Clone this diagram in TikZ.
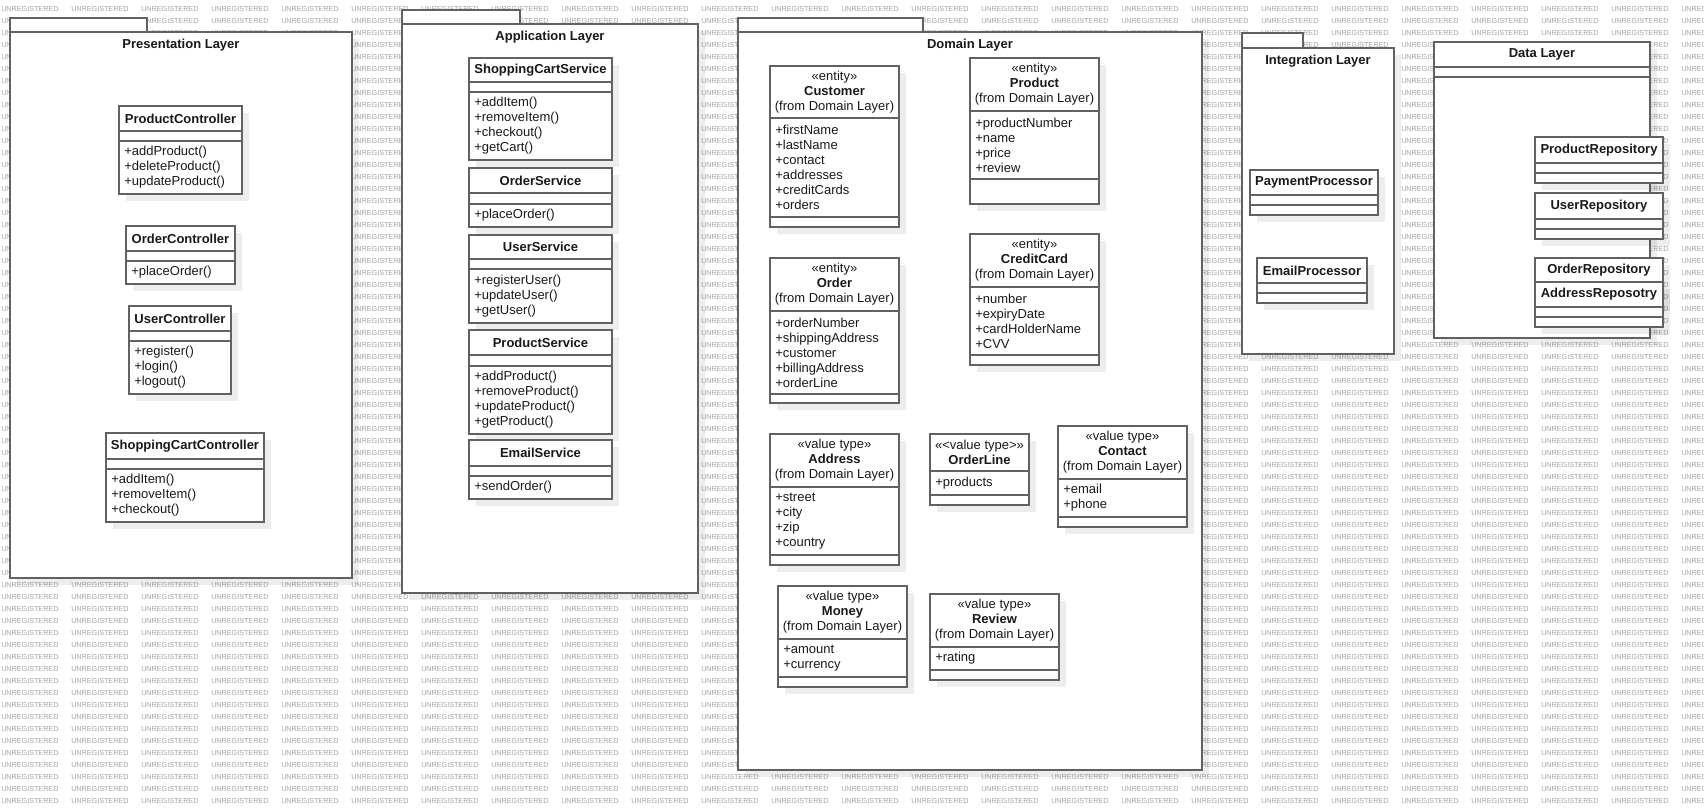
\documentclass[tikz,border=0pt]{standalone}
\usepackage{fontspec}
\setmainfont{Liberation Sans}
\usetikzlibrary{fit}

\newcommand{\umlfont}{\fontsize{9.75}{11.25}\selectfont}

% class: name, x1, y1, x2, y2, first rule, second rule, header
\newcommand{\classbox}[8]{%
  \fill[shadowfill] ({#2+7},{#3+7}) rectangle ({#4+7},{#5+7});
  \node[umlbox, fit={(#2,#3) (#4,#5)}] (#1) {};
  \draw[umlline] (#2,#6) -- (#4,#6) (#2,#7) -- (#4,#7);
  \node[classhead] (#1-name) at ({(#2+#4)/2},{(#3+#6)/2}) {#8};
  \coordinate (#1-a) at ({#2+5},{(#6+#7)/2});
  \coordinate (#1-o) at ({#2+5},{(#7+#5)/2});
}

% package: name, x1, tab top, tab right, body top, x2, y2, title
\newcommand{\umlpackage}[8]{%
  \fill[shadowfill] ({#2+7},{#5+7}) rectangle ({#6+7},{#7+7});
  \node[umlbox, fit={(#2,#3) (#4,#5)}] (#1-tab) {};
  \node[umlbox, fit={(#2,#5) (#6,#7)}] (#1) {};
  \node[pkgtitle] (#1-title) at ({(#2+#6)/2},{#5+13.5}) {#8};
}

\begin{document}
\begin{tikzpicture}[x=0.75pt, y=-0.75pt,
  umlbox/.style={draw=black!62, line width=0.9pt, fill=white, inner sep=0pt},
  umlline/.style={draw=black!62, line width=0.9pt},
  shadowfill/.style={fill=black, fill opacity=0.07},
  classhead/.style={align=center, inner sep=0pt, font=\umlfont, text=black!90},
  members/.style={anchor=west, align=left, inner sep=0pt, font=\umlfont, text=black!90},
  pkgtitle/.style={inner sep=0pt, font=\umlfont\bfseries, text=black!90},
  wmark/.style={anchor=west, inner sep=0pt, font=\fontsize{5.4}{6}\selectfont, text=black!36}]
  \useasboundingbox (0,0) rectangle (1704,810);
  \fill[white] (0,0) rectangle (1704,810);

  % Watermark
  \foreach \r in {0,...,66}
    \foreach \c in {0,...,24}
      \node[wmark] (wm-\r-\c) at ({70*\c+1},{9+12*\r}) {UNREGISTERED};

  % Packages
  \umlpackage{presentation}{10}{18}{147}{32}{352}{578}{Presentation Layer}
  \umlpackage{application}{402}{10}{520}{24}{698}{593}{Application Layer}
  \umlpackage{domain}{738}{18}{923}{32}{1202}{770}{Domain Layer}
  \umlpackage{integration}{1242}{33}{1303}{48}{1394}{354}{Integration Layer}
  \classbox{data}{1434}{42}{1650}{338}{67}{77}{\textbf{Data Layer}}

  % Presentation Layer
  \classbox{productctl}{119}{106}{242}{194}{131}{141}{\textbf{ProductController}}
  \node[members] (productctl-ops) at (productctl-o) {+addProduct()\\+deleteProduct()\\+updateProduct()};
  \classbox{orderctl}{126}{226}{235}{284}{251}{261}{\textbf{OrderController}}
  \node[members] (orderctl-ops) at (orderctl-o) {+placeOrder()};
  \classbox{userctl}{129}{306}{231}{394}{331}{341}{\textbf{UserController}}
  \node[members] (userctl-ops) at (userctl-o) {+register()\\+login()\\+logout()};
  \classbox{cartctl}{106}{433}{264}{522}{459}{469}{\textbf{ShoppingCartController}}
  \node[members] (cartctl-ops) at (cartctl-o) {+addItem()\\+removeItem()\\+checkout()};

  % Application Layer
  \classbox{cartsvc}{469}{58}{612}{160}{82}{92}{\textbf{ShoppingCartService}}
  \node[members] (cartsvc-ops) at (cartsvc-o) {+addItem()\\+removeItem()\\+checkout()\\+getCart()};
  \classbox{ordersvc}{469}{168}{612}{227}{193}{204}{\textbf{OrderService}}
  \node[members] (ordersvc-ops) at (ordersvc-o) {+placeOrder()};
  \classbox{usersvc}{469}{235}{612}{323}{259}{269}{\textbf{UserService}}
  \node[members] (usersvc-ops) at (usersvc-o) {+registerUser()\\+updateUser()\\+getUser()};
  \classbox{productsvc}{469}{330}{612}{434}{355}{366}{\textbf{ProductService}}
  \node[members] (productsvc-ops) at (productsvc-o) {+addProduct()\\+removeProduct()\\+updateProduct()\\+getProduct()};
  \classbox{emailsvc}{469}{440}{612}{499}{466}{476}{\textbf{EmailService}}
  \node[members] (emailsvc-ops) at (emailsvc-o) {+sendOrder()};

  % Domain Layer
  \classbox{customer}{770}{66}{899}{227}{118}{217}{«entity»\\\textbf{Customer}\\(from Domain Layer)}
  \node[members] (customer-attr) at (customer-a) {+firstName\\+lastName\\+contact\\+addresses\\+creditCards\\+orders};
  \classbox{product}{970}{58}{1099}{204}{111}{179}{«entity»\\\textbf{Product}\\(from Domain Layer)}
  \node[members] (product-attr) at (product-a) {+productNumber\\+name\\+price\\+review};
  \classbox{order}{770}{258}{899}{403}{311}{394}{«entity»\\\textbf{Order}\\(from Domain Layer)}
  \node[members] (order-attr) at (order-a) {+orderNumber\\+shippingAddress\\+customer\\+billingAddress\\+orderLine};
  \classbox{card}{970}{234}{1099}{365}{287}{355}{«entity»\\\textbf{CreditCard}\\(from Domain Layer)}
  \node[members] (card-attr) at (card-a) {+number\\+expiryDate\\+cardHolderName\\+CVV};
  \classbox{address}{770}{434}{899}{565}{487}{555}{«value type»\\\textbf{Address}\\(from Domain Layer)}
  \node[members] (address-attr) at (address-a) {+street\\+city\\+zip\\+country};
  \classbox{orderline}{930}{434}{1029}{505}{471}{495}{«<value type>»\\\textbf{OrderLine}}
  \node[members] (orderline-attr) at (orderline-a) {+products};
  \classbox{contact}{1058}{426}{1187}{527}{479}{517}{«value type»\\\textbf{Contact}\\(from Domain Layer)}
  \node[members] (contact-attr) at (contact-a) {+email\\+phone};
  \classbox{money}{778}{586}{907}{687}{639}{677}{«value type»\\\textbf{Money}\\(from Domain Layer)}
  \node[members] (money-attr) at (money-a) {+amount\\+currency};
  \classbox{review}{930}{594}{1059}{680}{647}{670}{«value type»\\\textbf{Review}\\(from Domain Layer)}
  \node[members] (review-attr) at (review-a) {+rating};

  % Integration Layer
  \classbox{payment}{1250}{170}{1378}{215}{195}{205}{\textbf{PaymentProcessor}}
  \classbox{emailproc}{1257}{258}{1367}{303}{283}{293}{\textbf{EmailProcessor}}

  % Data Layer
  \classbox{productrepo}{1535}{137}{1663}{183}{163}{173}{\textbf{ProductRepository}}
  \classbox{userrepo}{1535}{193}{1663}{239}{219}{229}{\textbf{UserRepository}}
  \classbox{orderrepo}{1535}{258}{1663}{304}{283}{293}{\textbf{OrderRepository}}
  \classbox{addressrepo}{1535}{282}{1663}{327}{307}{317}{\textbf{AddressReposotry}}
\end{tikzpicture}
\end{document}
